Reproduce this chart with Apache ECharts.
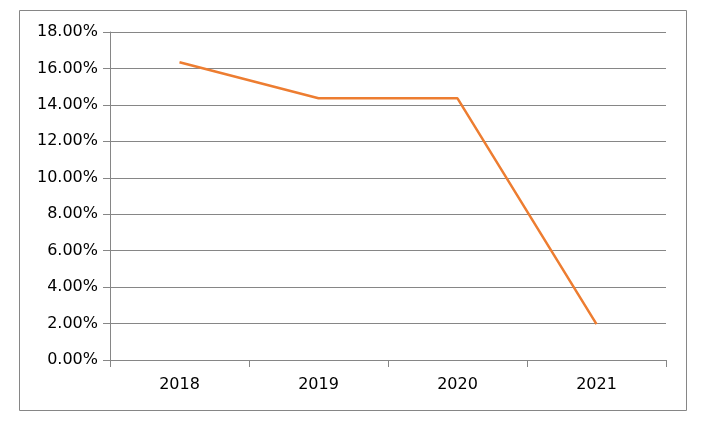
<!DOCTYPE html>
<html><head><meta charset="utf-8">
<script src="https://cdn.jsdelivr.net/npm/echarts@6/dist/echarts.min.js"></script>
<style>html,body{margin:0;padding:0;background:#fff}#c{width:703px;height:423px}</style>
</head><body><div id="c"></div>
<script>
const categories = ['2018', '2019', '2020', '2021'];
const values = [16.34, 14.36, 14.36, 1.97];
const yMin = 0, yMax = 18, yStep = 2;

const chart = echarts.init(document.getElementById('c'), null, {renderer: 'canvas'});
const font = '"DejaVu Sans", "Noto Sans", sans-serif';
chart.setOption({
  animation: false,
  backgroundColor: '#fff',
  graphic: [{
    type: 'rect', left: 19, top: 10, z: -1,
    shape: {width: 667, height: 400},
    style: {fill: '#fff', stroke: '#868686', lineWidth: 1}
  }],
  grid: {left: 110, right: 37, top: 32, bottom: 63},
  xAxis: {
    type: 'category', data: categories, boundaryGap: true,
    axisLine: {lineStyle: {color: '#868686', width: 1}},
    axisTick: {show: true, length: 7, lineStyle: {color: '#868686'}},
    axisLabel: {color: '#000', fontFamily: font, fontSize: 16, margin: 17}
  },
  yAxis: {
    type: 'value', min: yMin, max: yMax, interval: yStep,
    axisLine: {show: true, lineStyle: {color: '#868686', width: 1}},
    axisTick: {show: true, length: 7, lineStyle: {color: '#868686'}},
    splitLine: {lineStyle: {color: '#868686', width: 1}},
    axisLabel: {color: '#000', fontFamily: font, fontSize: 16, margin: 12,
      formatter: v => v.toFixed(2) + '%'}
  },
  series: [{
    type: 'line', data: values, showSymbol: false, symbol: 'none',
    lineStyle: {color: '#ED7D31', width: 2.5},
    itemStyle: {color: '#ED7D31'}
  }]
});
</script></body></html>
